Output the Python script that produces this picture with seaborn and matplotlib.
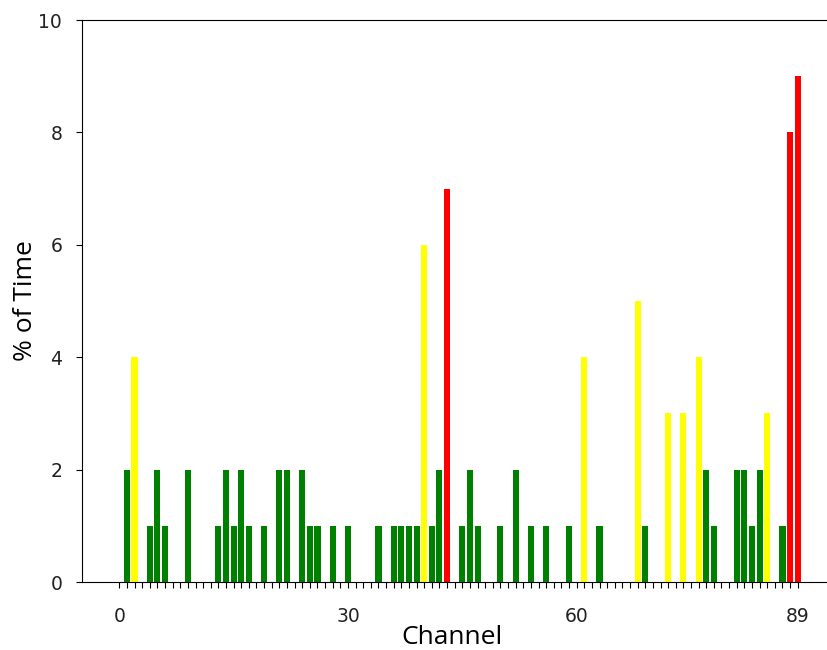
import numpy as np
import pandas as pd
import matplotlib
matplotlib.use("Agg")
import matplotlib.pyplot as plt
import seaborn as sns

# percent of time per channel (0..89)
channels = list(range(90))
pct_time = [
    0, 2, 4, 0, 1, 2, 1, 0, 0, 2,   # 0-9
    0, 0, 0, 1, 2, 1, 2, 1, 0, 1,   # 10-19
    0, 2, 2, 0, 2, 1, 1, 0, 1, 0,   # 20-29
    1, 0, 0, 0, 1, 0, 1, 1, 1, 1,   # 30-39
    6, 1, 2, 7, 0, 1, 2, 1, 0, 0,   # 40-49
    1, 0, 2, 0, 1, 0, 1, 0, 0, 1,   # 50-59
    0, 4, 0, 1, 0, 0, 0, 0, 5, 1,   # 60-69
    0, 0, 3, 0, 3, 0, 4, 2, 1, 0,   # 70-79
    0, 2, 2, 1, 2, 3, 0, 1, 8, 9,   # 80-89
]
tick_labels = {0: "0", 30: "30", 60: "60", 89: "89"}


def level(v):
    if v >= 7:
        return "high"
    if v >= 3:
        return "mid"
    return "low"


df = pd.DataFrame({"channel": channels, "pct": pct_time})
df["level"] = df["pct"].apply(level)
palette = {"low": "green", "mid": "yellow", "high": "red"}

fig = plt.figure(figsize=(8.28, 6.5), dpi=100)
ax = fig.add_axes([82 / 828, 1 - 582 / 650, (835 - 82) / 828, (582 - 20) / 650])

sns.barplot(data=df, x="channel", y="pct", hue="level", palette=palette,
            dodge=False, legend=False, width=0.8, native_scale=True,
            saturation=1, ax=ax)

ax.set_xlim(-4.89, 93.89)
ax.set_ylim(0, 10)
ax.spines["right"].set_visible(False)
ax.set_xticks(channels)
ax.set_xticklabels([tick_labels.get(c, "") for c in channels])
ax.set_yticks([0, 2, 4, 6, 8, 10])
ax.tick_params(axis="both", labelsize=13.5, length=4.3, labelcolor="#222222")
ax.tick_params(axis="x", pad=14)
ax.tick_params(axis="y", pad=10)

lab_font = ["Open Sans", "DejaVu Sans"]
ax.set_xlabel("Channel", fontsize=19, family=lab_font, labelpad=-1, x=0.491)
ax.set_ylabel("% of Time", fontsize=19, family=lab_font, labelpad=0)

fig.savefig("out.png", dpi=100)
